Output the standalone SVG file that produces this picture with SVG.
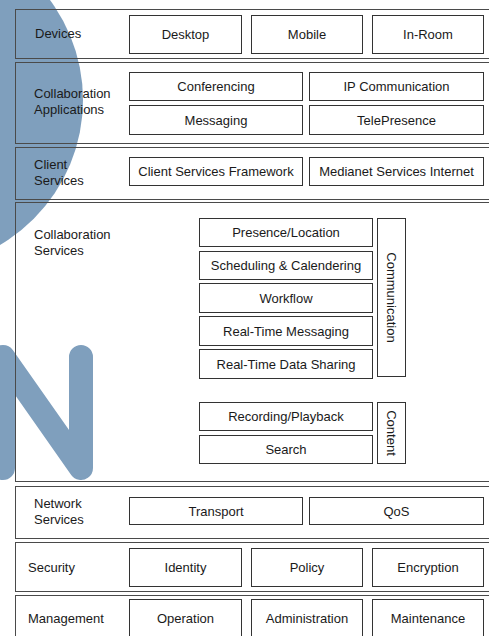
<svg xmlns="http://www.w3.org/2000/svg" width="489" height="636" viewBox="0 0 489 636">
  <style>
    .frame { fill: none; stroke: #4a4a4a; stroke-width: 1; }
    .box { fill: #ffffff; stroke: #333333; stroke-width: 1; }
    text { font-family: "Liberation Sans", Arial, sans-serif; font-size: 13px; fill: #1a1a1a; }
    .c { text-anchor: middle; }
    .mark { fill: #7f9fbd; }
    .markN { fill: none; stroke: #7f9fbd; stroke-width: 24; stroke-linecap: round; stroke-linejoin: round; }
  </style>

  <!-- background logo -->
  <g id="logo">
    <circle class="mark" cx="-85" cy="100" r="168"/>
    <polyline class="markN" points="3,468 3,357 81,468 81,357"/>
  </g>

  <!-- layer: Devices -->
  <g id="layer-devices">
    <rect class="frame" x="15.5" y="9.5" width="480" height="49"/>
    <text x="35" y="38">Devices</text>
  </g>
  <g id="desktop"><rect class="box" x="129.5" y="15.5" width="112" height="38"/><text class="c" x="185.5" y="39">Desktop</text></g>
  <g id="mobile"><rect class="box" x="251.5" y="15.5" width="111" height="38"/><text class="c" x="307" y="39">Mobile</text></g>
  <g id="in-room"><rect class="box" x="372.5" y="15.5" width="111" height="38"/><text class="c" x="428" y="39">In-Room</text></g>

  <!-- layer: Collaboration Applications -->
  <g id="layer-collab-apps">
    <rect class="frame" x="15.5" y="62.5" width="480" height="81"/>
    <text x="34" y="98">Collaboration</text>
    <text x="34" y="114">Applications</text>
  </g>
  <g id="conferencing"><rect class="box" x="129.5" y="72.5" width="173" height="28"/><text class="c" x="216" y="91">Conferencing</text></g>
  <g id="messaging"><rect class="box" x="129.5" y="105.5" width="173" height="29"/><text class="c" x="216" y="124.5">Messaging</text></g>
  <g id="ip-communication"><rect class="box" x="309.5" y="72.5" width="174" height="28"/><text class="c" x="396.5" y="91">IP Communication</text></g>
  <g id="telepresence"><rect class="box" x="309.5" y="105.5" width="174" height="29"/><text class="c" x="396.5" y="124.5">TelePresence</text></g>

  <!-- layer: Client Services -->
  <g id="layer-client-services">
    <rect class="frame" x="15.5" y="147.5" width="480" height="52"/>
    <text x="34" y="169">Client</text>
    <text x="34" y="185">Services</text>
  </g>
  <g id="client-services-framework"><rect class="box" x="129.5" y="157.5" width="173" height="28"/><text class="c" x="216" y="176">Client Services Framework</text></g>
  <g id="medianet-services"><rect class="box" x="309.5" y="157.5" width="174" height="28"/><text class="c" x="396.5" y="176">Medianet Services Internet</text></g>

  <!-- layer: Collaboration Services -->
  <g id="layer-collab-services">
    <rect class="frame" x="15.5" y="202.5" width="480" height="279"/>
    <text x="34" y="239">Collaboration</text>
    <text x="34" y="255">Services</text>
  </g>
  <g id="presence"><rect class="box" x="199.5" y="218.5" width="173" height="28"/><text class="c" x="286" y="237">Presence/Location</text></g>
  <g id="scheduling"><rect class="box" x="199.5" y="251.5" width="173" height="28"/><text class="c" x="286" y="270">Scheduling &amp; Calendering</text></g>
  <g id="workflow"><rect class="box" x="199.5" y="283.5" width="173" height="29"/><text class="c" x="286" y="302.5">Workflow</text></g>
  <g id="rt-messaging"><rect class="box" x="199.5" y="316.5" width="173" height="29"/><text class="c" x="286" y="335.5">Real-Time Messaging</text></g>
  <g id="rt-data-sharing"><rect class="box" x="199.5" y="349.5" width="173" height="29"/><text class="c" x="286" y="368.5">Real-Time Data Sharing</text></g>
  <g id="recording"><rect class="box" x="199.5" y="402.5" width="173" height="28"/><text class="c" x="286" y="421">Recording/Playback</text></g>
  <g id="search"><rect class="box" x="199.5" y="435.5" width="173" height="28"/><text class="c" x="286" y="454">Search</text></g>
  <g id="communication">
    <rect class="box" x="377.5" y="218.5" width="28" height="158"/>
    <text class="c" transform="translate(391.5,297.5) rotate(90)" y="4.6">Communication</text>
  </g>
  <g id="content">
    <rect class="box" x="377.5" y="402.5" width="28" height="61"/>
    <text class="c" transform="translate(391.5,433) rotate(90)" y="4.6">Content</text>
  </g>

  <!-- layer: Network Services -->
  <g id="layer-network-services">
    <rect class="frame" x="15.5" y="486.5" width="480" height="52"/>
    <text x="34" y="508">Network</text>
    <text x="34" y="524">Services</text>
  </g>
  <g id="transport"><rect class="box" x="129.5" y="497.5" width="173" height="27"/><text class="c" x="216" y="515.5">Transport</text></g>
  <g id="qos"><rect class="box" x="309.5" y="497.5" width="174" height="27"/><text class="c" x="396.5" y="515.5">QoS</text></g>

  <!-- layer: Security -->
  <g id="layer-security">
    <rect class="frame" x="15.5" y="542.5" width="480" height="49"/>
    <text x="28" y="572">Security</text>
  </g>
  <g id="identity"><rect class="box" x="129.5" y="548.5" width="112" height="38"/><text class="c" x="185.5" y="572">Identity</text></g>
  <g id="policy"><rect class="box" x="251.5" y="548.5" width="111" height="38"/><text class="c" x="307" y="572">Policy</text></g>
  <g id="encryption"><rect class="box" x="372.5" y="548.5" width="111" height="38"/><text class="c" x="428" y="572">Encryption</text></g>

  <!-- layer: Management -->
  <g id="layer-management">
    <rect class="frame" x="15.5" y="595.5" width="480" height="50"/>
    <text x="28" y="623">Management</text>
  </g>
  <g id="operation"><rect class="box" x="129.5" y="599.5" width="112" height="45"/><text class="c" x="185.5" y="623">Operation</text></g>
  <g id="administration"><rect class="box" x="251.5" y="599.5" width="111" height="45"/><text class="c" x="307" y="623">Administration</text></g>
  <g id="maintenance"><rect class="box" x="372.5" y="599.5" width="111" height="45"/><text class="c" x="428" y="623">Maintenance</text></g>
</svg>
